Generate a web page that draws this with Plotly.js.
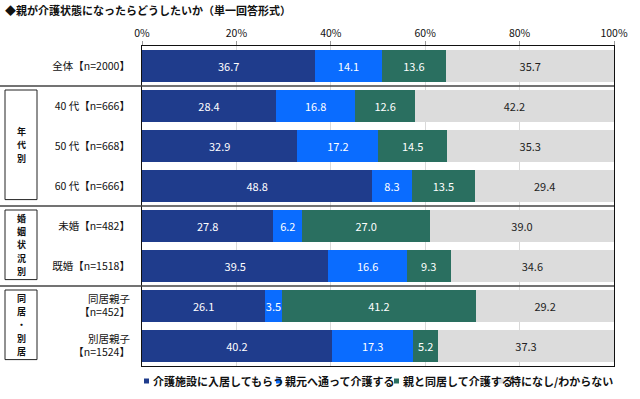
<!DOCTYPE html>
<html>
<head>
<meta charset="utf-8">
<script src="https://cdn.plot.ly/plotly-3.0.1.min.js"></script>
<style>html,body{margin:0;padding:0;background:#fff;}#chart{width:640px;height:399px;}</style>
</head>
<body>
<div id="chart"></div>
<script>
const categories = ['全体【n=2000】','40 代【n=666】','50 代【n=668】','60 代【n=666】','未婚【n=482】','既婚【n=1518】','同居親子<br>【n=452】','別居親子<br>【n=1524】'];
const seriesNames = ['介護施設に入居してもらう','親元へ通って介護する','親と同居して介護する','特になし/わからない'];
const facility = [36.7, 28.4, 32.9, 48.8, 27.8, 39.5, 26.1, 40.2];
const commute  = [14.1, 16.8, 17.2, 8.3, 6.2, 16.6, 3.5, 17.3];
const cohabit  = [13.6, 12.6, 14.5, 13.5, 27.0, 9.3, 41.2, 5.2];
const noneDk   = [35.7, 42.2, 35.3, 29.4, 39.0, 34.6, 29.2, 37.3];
const groupNames = ['年代別','婚姻状況別','同居・別居'];
const groupFirst = [1, 4, 6];
const groupLast  = [3, 5, 7];
const xTickVals = [0, 20, 40, 60, 80, 100];

const colors = ['#1F3C8C', '#0A6CFF', '#2A6F60', '#DCDCDC'];
const textColors = ['#ffffff', '#ffffff', '#ffffff', '#222222'];
const FONT = '"Noto Sans CJK JP", "Noto Sans", sans-serif';
const values = [facility, commute, cohabit, noneDk];

const W = 640, H = 399, L = 142, R = 26, T = 46, B = 33;
const plotW = W - L - R;
const plotH = H - T - B;
const rowPx = plotH / categories.length;
const px2paperX = px => (px - L) / plotW;
const px2paperY = py => (H - B - py) / plotH;

const traces = values.map((v, i) => ({
  type: 'bar', orientation: 'h', name: seriesNames[i],
  y: categories, x: v,
  marker: {color: colors[i], line: {width: 0}},
  texttemplate: '%{x:.1f}', textposition: 'inside', insidetextanchor: 'middle',
  textangle: 0, constraintext: 'none',
  insidetextfont: {family: FONT, size: 11, color: textColors[i]},
  hoverinfo: 'skip', showlegend: false
}));

const shapes = [];
const annotations = [];
// separators between groups
const sepAt = [0.5, 3.5, 5.5];
sepAt.forEach(y => shapes.push({type: 'line', xref: 'paper', yref: 'y', x0: px2paperX(0), x1: 1, y0: y, y1: y, line: {color: '#444', width: 1.5}}));
// group boxes with vertical text (one annotation per character)
groupNames.forEach((g, gi) => {
  const y0 = groupFirst[gi] - 0.4, y1 = groupLast[gi] + 0.34;
  shapes.push({type: 'rect', xref: 'paper', yref: 'y', x0: px2paperX(5), x1: px2paperX(37), y0: y0, y1: y1, line: {color: '#222', width: 1}, fillcolor: 'rgba(0,0,0,0)'});
  const chars = Array.from(g);
  const mid = (y0 + y1) / 2;
  const step = 13.2 / rowPx;
  chars.forEach((c, ci) => {
    annotations.push({xref: 'paper', yref: 'y', x: px2paperX(21), y: mid + (ci - (chars.length - 1) / 2) * step,
      text: c, showarrow: false, xanchor: 'center', yanchor: 'middle', borderpad: 0,
      font: {family: FONT, size: 9, color: '#111', weight: 'bold'}});
  });
});
// legend built as annotations (Excel-style tight legend)
const legMarkerPx = [144, 276, 394, 499];
const legTextPx = [151, 283, 401, 508];
const legY = px2paperY(381);
seriesNames.forEach((n, i) => {
  annotations.push({xref: 'paper', yref: 'paper', x: px2paperX(legTextPx[i]), y: legY, text: n, showarrow: false,
    xanchor: 'left', yanchor: 'middle', font: {family: FONT, size: 11, color: '#111', weight: 'bold'}});
});
seriesNames.forEach((n, i) => {
  shapes.push({type: 'rect', xref: 'paper', yref: 'paper', x0: px2paperX(legMarkerPx[i]), x1: px2paperX(legMarkerPx[i] + 5),
    y0: px2paperY(383.5), y1: px2paperY(378.5), fillcolor: colors[i], line: {width: 0}});
});

const layout = {
  width: W, height: H,
  margin: {l: L, r: R, t: T, b: B, pad: 0},
  paper_bgcolor: '#ffffff', plot_bgcolor: '#ffffff',
  barmode: 'stack', bargap: 0.22,
  font: {family: FONT, size: 10.5, color: '#111'},
  title: {text: '◆親が介護状態になったらどうしたいか（単一回答形式）', xref: 'container', yref: 'container',
    x: 5 / W, xanchor: 'left', y: 1 - 11 / H, yanchor: 'middle',
    font: {family: FONT, size: 11, color: '#111', weight: 'bold'}},
  xaxis: {side: 'top', range: [0, 100], tickvals: xTickVals, ticktext: xTickVals.map(v => v + '%'),
    showgrid: true, gridcolor: '#d9d9d9', gridwidth: 1, zeroline: false,
    showline: true, linecolor: '#111', linewidth: 1, mirror: true,
    ticks: 'outside', ticklen: 4, tickcolor: '#999',
    tickfont: {family: FONT, size: 10.5, color: '#111'}, fixedrange: true},
  yaxis: {type: 'category', range: [categories.length - 0.5, -0.5],
    showline: true, linecolor: '#111', linewidth: 1, mirror: true, showgrid: false,
    ticks: '', ticklabelstandoff: 9,
    tickfont: {family: FONT, size: 10.5, color: '#111'}, fixedrange: true},
  shapes: shapes,
  annotations: annotations,
  showlegend: false
};

Plotly.newPlot('chart', traces, layout, {displayModeBar: false, staticPlot: true});
</script>
</body>
</html>
